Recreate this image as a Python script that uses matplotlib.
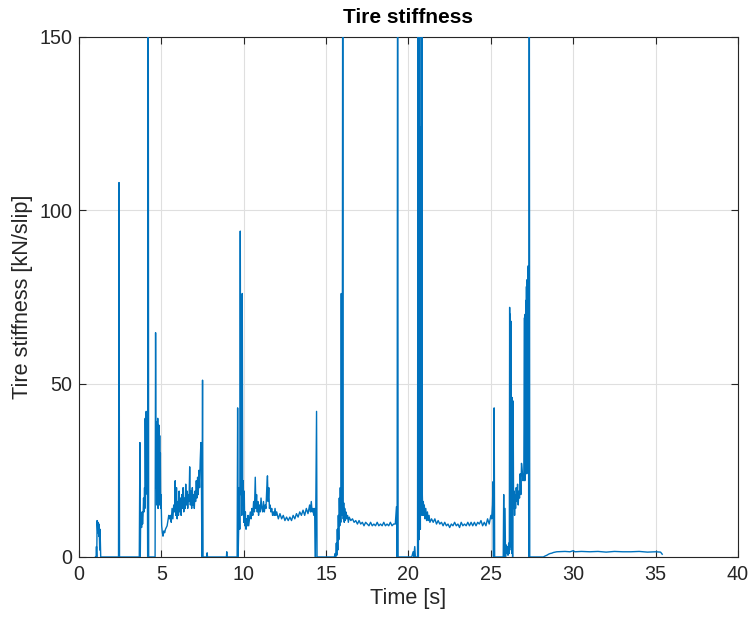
import matplotlib
matplotlib.use("Agg")
import matplotlib.pyplot as plt
import numpy as np

# time [s] and estimated tire stiffness [kN/slip], one log segment per line
time_s = [
    1.00, 1.04, 1.06, 1.08, 1.10, 1.14, 1.16, 1.20, 1.22, 1.26, 1.28, 1.32, 1.34, 1.40,
    2.40, 2.43, 2.46,
    3.66, 3.70, 3.72, 3.74, 3.77, 3.80, 3.83, 3.86, 3.89, 3.92, 3.95, 3.98, 4.00,
    4.02, 4.05, 4.08, 4.11, 4.14, 4.17, 4.20, 4.23, 4.62, 4.65,
    4.68, 4.70, 4.72, 4.74, 4.76, 4.78, 4.80, 4.82, 4.84, 4.86, 4.88, 4.90, 4.92, 4.94, 4.96, 4.98,
    5.02, 5.06, 5.10, 5.15, 5.20, 5.25, 5.30, 5.35, 5.40, 5.45, 5.50,
    5.55, 5.60, 5.65, 5.70, 5.75, 5.80, 5.84, 5.88, 5.92, 5.96, 6.00, 6.04, 6.08, 6.12,
    6.16, 6.20, 6.24, 6.28, 6.32, 6.36, 6.40, 6.44, 6.48, 6.52, 6.56, 6.60, 6.64, 6.68,
    6.72, 6.76, 6.80, 6.84, 6.88, 6.92, 6.96, 7.00, 7.04, 7.08, 7.12, 7.16, 7.20, 7.24,
    7.28, 7.32, 7.36, 7.40, 7.43, 7.46, 7.50, 7.53,
    7.75, 7.78, 7.80, 8.95, 8.97, 8.99,
    9.60, 9.63, 9.66, 9.70, 9.73, 9.76, 9.79, 9.82, 9.85, 9.88, 9.91, 9.94, 9.97, 10.00,
    10.03, 10.06, 10.10, 10.14, 10.18, 10.22, 10.26, 10.30, 10.35, 10.40, 10.45, 10.50,
    10.55, 10.60, 10.65, 10.70, 10.74, 10.78, 10.82, 10.86, 10.90, 10.95, 11.00, 11.05,
    11.10, 11.15, 11.20, 11.25, 11.30, 11.35, 11.40, 11.44, 11.48, 11.52, 11.56, 11.60,
    11.65, 11.70, 11.75, 11.80, 11.85, 11.90, 11.95, 12.00, 12.10, 12.20, 12.30, 12.40,
    12.50, 12.60, 12.70, 12.80, 12.90, 13.00, 13.10, 13.20, 13.30, 13.40, 13.50, 13.60,
    13.70, 13.80, 13.90, 14.00, 14.05, 14.10, 14.15, 14.20, 14.25, 14.30, 14.35, 14.42, 14.45,
    15.50, 15.55, 15.58, 15.62, 15.65, 15.68, 15.71, 15.74, 15.77, 15.80, 15.83, 15.86,
    15.89, 15.92, 15.95, 15.98, 16.01, 16.04, 16.07, 16.10, 16.13, 16.16, 16.20, 16.25,
    16.30, 16.35, 16.40, 16.50, 16.60, 16.70, 16.80, 16.90, 17.00, 17.10, 17.20, 17.30,
    17.40, 17.50, 17.60, 17.70, 17.80, 17.90, 18.00, 18.10, 18.20, 18.30, 18.40, 18.50,
    18.60, 18.70, 18.80, 18.90, 19.00, 19.10, 19.20, 19.27, 19.29, 19.31, 19.34, 19.37,
    20.20, 20.28, 20.32, 20.38, 20.42, 20.55,
    20.58, 20.60, 20.62, 20.64, 20.66, 20.68, 20.70, 20.72, 20.74, 20.76, 20.78, 20.80,
    20.82, 20.84, 20.87, 20.90, 20.93, 20.96, 21.00, 21.05, 21.10, 21.15, 21.20, 21.25,
    21.30, 21.40, 21.50, 21.60, 21.70, 21.80, 21.90, 22.00, 22.10, 22.20, 22.30, 22.40,
    22.50, 22.60, 22.70, 22.80, 22.90, 23.00, 23.10, 23.20, 23.30, 23.40, 23.50, 23.60,
    23.70, 23.80, 23.90, 24.00, 24.10, 24.20, 24.30, 24.40, 24.50, 24.60, 24.70, 24.80,
    24.90, 25.00, 25.05, 25.10, 25.13, 25.16, 25.20, 25.23,
    25.75, 25.78, 25.80, 25.86, 25.89, 25.92, 25.96, 26.00, 26.04, 26.08, 26.12,
    26.14, 26.16, 26.18, 26.20, 26.22, 26.24, 26.26, 26.28, 26.30, 26.32, 26.35, 26.38,
    26.41, 26.44, 26.47, 26.50, 26.54, 26.58, 26.62, 26.66, 26.70, 26.74, 26.78, 26.82,
    26.86, 26.90, 26.95, 27.00, 27.04, 27.06, 27.08, 27.10, 27.12, 27.14, 27.16, 27.18,
    27.20, 27.22, 27.24, 27.27, 27.30, 27.33, 27.36,
    28.18, 28.30, 28.40, 28.50, 28.60, 28.70, 28.80, 28.90, 29.00, 29.50, 29.80, 30.00,
    30.10, 30.50, 31.00, 31.50, 32.00, 32.50, 33.00, 33.50, 34.00, 34.50, 35.00, 35.30, 35.40,
]

stiffness = [
    0, 0, 3, 0, 10.5, 7, 10, 6, 9.5, 2, 8, 0, 0, 0,
    0, 108, 0,
    0, 33, 0, 9, 12, 8.5, 13, 9.5, 12, 17, 13, 20, 14,
    40, 18, 42, 20, 38, 0, 200, 0, 0, 64.7,
    20, 39, 15, 36, 17, 40, 14, 37, 16, 38, 15, 35, 16, 30, 14, 18,
    9, 7, 6, 7.5, 7, 8, 8.5, 9, 10.5, 12, 11,
    12, 10, 14, 11, 15, 13, 22, 12, 20, 11, 16, 12, 19, 13,
    17, 12, 18, 14, 20, 13, 17, 14, 21, 15, 19, 14, 18, 16,
    26, 15, 19, 14, 20, 15, 18, 14, 19, 16, 22, 17, 23, 18,
    25, 20, 28, 33, 25, 0, 51, 0,
    0, 1.2, 0, 0, 1.5, 0,
    0, 43, 0, 10, 20, 8, 94, 18, 25, 12, 76, 15, 22, 10,
    19, 9, 13, 8, 11, 9, 12, 9, 11, 13, 11, 14,
    12, 16, 13, 23, 14, 18, 13, 16, 12, 15, 13, 17,
    14, 13, 16, 13, 15, 14, 20, 23.4, 16, 20, 14, 15,
    13, 14, 12, 13, 12, 14, 12, 13, 11, 12.5, 11, 12,
    10.5, 11.5, 10.5, 11.5, 10.5, 12, 11, 12.5, 11.5, 13, 12, 13.5,
    12, 14, 12.5, 15, 13, 16, 13, 14, 12, 14, 0, 42, 0,
    0, 1, 0, 4, 0.5, 8, 2, 12, 5, 17, 9, 20,
    10, 76, 12, 20, 200, 11, 15.6, 10, 14, 10.5, 13, 11,
    12, 10, 11.5, 10.5, 11, 10, 10.5, 9.5, 10.5, 9.5, 10, 9,
    10, 9.5, 9, 10, 9, 9.5, 9, 10, 9, 9.5, 9, 10,
    9, 9.5, 9, 10, 9, 9.5, 9.5, 14.5, 9, 0, 200, 0,
    0, 1.5, 0, 3, 0, 0,
    200, 0, 124, 5, 200, 10, 124, 8, 107, 12, 200, 15,
    200, 18, 12, 16, 12, 15, 11, 14, 10.5, 13, 10.5, 12,
    10, 11, 10, 11, 9.5, 10.5, 9.5, 10, 9, 10, 9, 9.5,
    8.5, 9.5, 9, 10, 9, 9.5, 8.5, 10, 9, 9.5, 9, 10,
    9, 10, 9, 10, 9, 10, 9.5, 10.5, 9, 10, 9, 11,
    9.5, 12, 11, 15, 21.7, 0, 43, 0,
    0, 18, 0, 14, 0, 3.5, 1, 3, 0.5, 4, 1,
    72, 5, 70, 3, 68, 2, 46, 1, 46, 0, 45, 14,
    19, 12, 18, 14, 20, 16, 21, 15, 19, 17, 24, 18,
    27, 25, 22, 24, 69, 22, 70, 25, 74, 30, 78, 24,
    80, 28, 82, 84, 0, 200, 0,
    0, 0.3, 0.5, 0.8, 1.0, 1.1, 1.3, 1.4, 1.5, 1.6, 1.5, 1.8,
    1.5, 1.6, 1.5, 1.6, 1.4, 1.6, 1.5, 1.5, 1.6, 1.4, 1.5, 1.4, 0.8,
]

x_ticks = [0, 5, 10, 15, 20, 25, 30, 35, 40]
y_ticks = [0, 50, 100, 150]

plt.rcParams["font.family"] = ["Liberation Sans", "DejaVu Sans"]

fig = plt.figure(figsize=(7.5, 6.21), dpi=100)
ax = fig.add_axes([0.1053, 0.1031, 0.8787, 0.8374])

ax.plot(np.array(time_s), np.array(stiffness), color="#0072BD", lw=1.0, zorder=3)

ax.set_xlim(0, 40)
ax.set_ylim(0, 150)
ax.set_xticks(x_ticks)
ax.set_yticks(y_ticks)
ax.grid(True, color="#dfdfdf", lw=0.8)
ax.set_axisbelow(True)
ax.tick_params(direction="in", length=5, width=0.8, colors="#262626",
               labelsize=14.2, top=True, right=True)
ax.tick_params(axis="x", pad=5.5)
ax.tick_params(axis="y", pad=5)
for sp in ax.spines.values():
    sp.set_color("#262626")
    sp.set_linewidth(0.8)

ax.set_xlabel("Time [s]", fontsize=15.6, color="#262626", labelpad=3)
ax.set_ylabel("Tire stiffness [kN/slip]", fontsize=15.6, color="#262626", labelpad=4)
ax.set_title("Tire stiffness", fontsize=15, fontweight="bold", pad=10)

fig.savefig("out.png", dpi=100)
